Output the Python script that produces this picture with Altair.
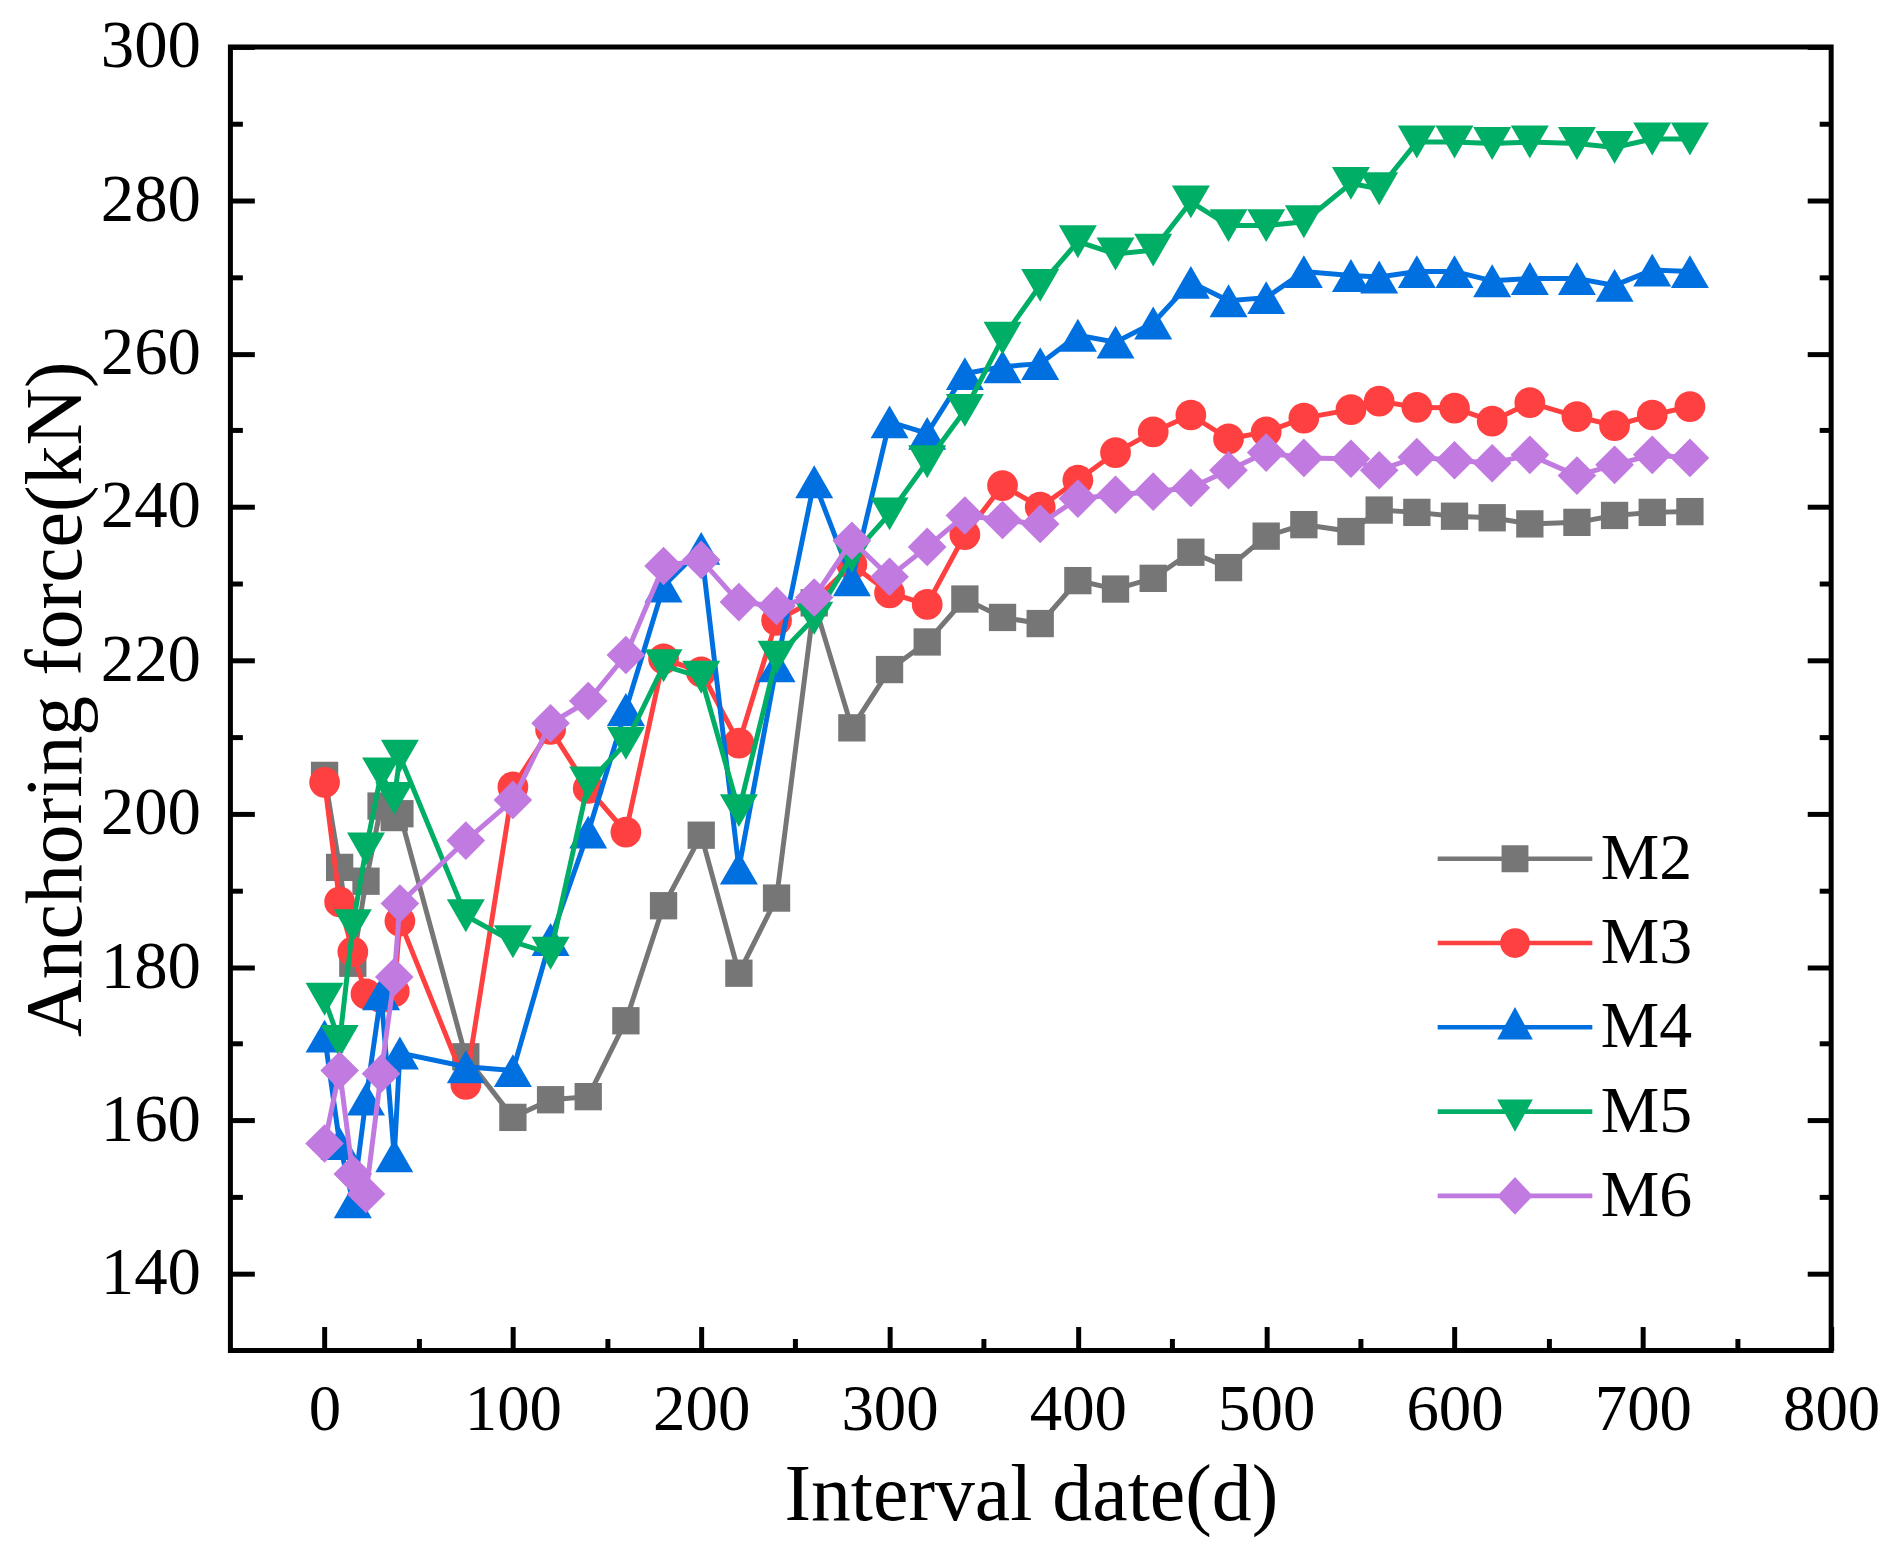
import altair as alt
import pandas as pd

FONT = "Liberation Serif"
PLOT_W = 1605
PLOT_H = 1307

days = [0, 8, 15, 22, 30, 37, 40, 75, 100, 120, 140, 160, 180, 200, 220, 240,
        260, 280, 300, 320, 340, 360, 380, 400, 420, 440, 460, 480, 500, 520,
        545, 560, 580, 600, 620, 640, 665, 685, 705, 725]

m2 = [205.0, 193.0, 180.5, 191.2, 201.0, 199.5, 200.0,
      168.3, 160.4, 162.7, 163.1, 173.0, 188.0, 197.2, 179.2, 189.0, 227.5,
      211.2, 218.8, 222.4, 228.0, 225.6, 224.8, 230.4, 229.3, 230.7, 234.1, 232.1, 236.2,
      237.7, 236.8, 239.6, 239.3, 238.8, 238.6, 237.8, 238.0, 238.9, 239.3, 239.4]
m3 = [204.1, 188.5, 182.0, 176.5, 176.0, 176.8, 186.0,
      164.7, 203.5, 211.0, 203.3, 197.6, 220.2, 218.5, 209.2, 225.2, 227.8,
      232.5, 228.8, 227.3, 236.4, 242.8, 240.0, 243.5, 247.1, 249.8, 252.0, 248.9, 249.8,
      251.6, 252.7, 253.8, 253.0, 252.9, 251.2, 253.6, 251.8, 250.6, 252.0, 253.1]
m4 = [171.0, 157.0, 149.4, 162.8, 176.5, 155.4, 168.8,
      167.0, 166.5, 183.6, 197.6, 213.6, 229.7, 234.6, 192.9, 219.3, 243.3,
      230.5, 251.1, 249.6, 257.4, 258.3, 258.7, 262.4, 261.5, 264.0, 269.3, 266.9, 267.3,
      270.7, 270.2, 270.0, 270.7, 270.7, 269.5, 269.8, 269.8, 268.9, 270.9, 270.7]
m5 = [175.8, 170.3, 185.4, 195.4, 205.2, 202.0, 207.5,
      186.7, 183.3, 181.8, 204.0, 209.2, 219.3, 217.8, 200.4, 220.4, 225.5,
      233.6, 239.1, 245.9, 252.6, 262.0, 268.9, 274.6, 273.0, 273.5, 279.8, 276.7, 276.7,
      277.2, 282.2, 281.5, 287.6, 287.6, 287.4, 287.6, 287.4, 286.9, 288.0, 288.0]
m6 = [157.0, 166.5, 153.0, 150.4, 166.1, 178.7, 188.3,
      196.5, 201.8, 211.8, 214.7, 220.7, 232.3, 233.1, 227.6, 227.1, 228.2,
      235.6, 230.9, 234.8, 238.9, 238.3, 237.8, 241.1, 241.6, 242.0, 242.5, 244.8, 247.1,
      246.4, 246.3, 244.8, 246.5, 246.1, 245.7, 246.8, 244.1, 245.5, 246.8, 246.4]

series_names = ["M2", "M3", "M4", "M5", "M6"]
series_values = [m2, m3, m4, m5, m6]
series_colors = ["#767676", "#FF4040", "#0070E0", "#00AE66", "#C07AE0"]
series_shapes = ["square", "circle", "triangle-up", "triangle-down", "diamond"]
series_sizes = [750, 950, 1450, 1450, 1500]

x_major = [0, 100, 200, 300, 400, 500, 600, 700, 800]
x_minor = [50, 150, 250, 350, 450, 550, 650, 750]
y_major = [140, 160, 180, 200, 220, 240, 260, 280, 300]
y_minor = [150, 170, 190, 210, 230, 250, 270, 290]

# legend symbols: a line with the marker in the middle (unit path, scaled by the legend)
LINE = "M -4.43 -0.13 H 4.43 V 0.13 H -4.43 Z "
legend_paths = [
    LINE + "M -0.77 -0.77 H 0.77 V 0.77 H -0.77 Z",
    LINE + "M -0.85 0 A 0.85 0.85 0 1 1 0.85 0 A 0.85 0.85 0 1 1 -0.85 0 Z",
    LINE + "M 0 -1.16 L 1.02 0.7 L -1.02 0.7 Z",
    LINE + "M -1.02 -0.7 L 1.02 -0.7 L 0 1.16 Z",
    LINE + "M 0 -1.08 L 1.02 0 L 0 1.08 L -1.02 0 Z",
]

x_scale = alt.Scale(domain=[-50, 800], nice=False, zero=False)
y_scale = alt.Scale(domain=[130, 300], nice=False, zero=False)

frames = [
    pd.DataFrame({"day": days, "value": vals, "series": name})
    for name, vals in zip(series_names, series_values)
]
all_data = pd.concat(frames, ignore_index=True)


def enc_x(axis):
    return alt.X("day:Q", scale=x_scale, axis=axis)


def enc_y(axis):
    return alt.Y("value:Q", scale=y_scale, axis=axis)


def tick_axis(orient, offset, values, size):
    return alt.Axis(orient=orient, offset=offset, values=values, tickSize=size,
                    tickWidth=5, tickColor="black", labels=False, domain=False,
                    grid=False, title=None)


layers = []

# series: line then symbols, in drawing order
for frame, color, shape, size in zip(frames, series_colors, series_shapes, series_sizes):
    base = alt.Chart(frame)
    layers.append(
        base.mark_line(color=color, strokeWidth=5).encode(x=enc_x(None), y=enc_y(None))
    )
    layers.append(
        base.mark_point(shape=shape, size=size, filled=True, opacity=1, color=color)
        .encode(x=enc_x(None), y=enc_y(None))
    )

# main axes with labels and titles
layers.append(
    alt.Chart(all_data).mark_point(opacity=0).encode(
        x=enc_x(alt.Axis(orient="bottom", values=x_major, ticks=False, domain=False,
                         grid=False, labelFont=FONT, labelFontSize=65, labelColor="black",
                         labelPadding=28, labelFlush=False, labelOverlap=False,
                         title="Interval date(d)", titleFont=FONT, titleFontSize=80,
                         titleFontWeight="normal", titleColor="black", titlePadding=14)),
        y=enc_y(alt.Axis(orient="left", values=y_major, ticks=False, domain=False,
                         grid=False, labelFont=FONT, labelFontSize=67, labelColor="black",
                         labelPadding=30, labelFlush=False, labelOverlap=False,
                         title="Anchoring force(kN)", titleFont=FONT, titleFontSize=80,
                         titleFontWeight="normal", titleColor="black", titlePadding=3)),
    )
)

# inward ticks: axes moved onto the opposite edge with a negative offset
tick_specs = [
    (tick_axis("top", -PLOT_H, x_major, 24), tick_axis("right", -PLOT_W, y_major, 24)),
    (tick_axis("top", -PLOT_H, x_minor, 12), tick_axis("right", -PLOT_W, y_minor, 12)),
    (None, tick_axis("left", -PLOT_W, y_major, 24)),
    (None, tick_axis("left", -PLOT_W, y_minor, 12)),
]
for xa, ya in tick_specs:
    layers.append(
        alt.Chart(all_data).mark_point(opacity=0).encode(x=enc_x(xa), y=enc_y(ya))
    )

# legend layer: no marks of its own (filtered out), only the legend
layers.append(
    alt.Chart(all_data)
    .transform_filter("datum.day < -1000")
    .mark_point(filled=True, opacity=1)
    .encode(
        x=enc_x(None),
        y=enc_y(None),
        color=alt.Color(
            "series:N",
            scale=alt.Scale(domain=series_names, range=series_colors),
            legend=alt.Legend(
                title=None, orient="none", legendX=1255, legendY=781,
                labelFont=FONT, labelFontSize=66, labelColor="black",
                labelOffset=53, symbolSize=1225, symbolOpacity=1,
                symbolStrokeWidth=0, rowPadding=18.5, padding=0,
            ),
        ),
        shape=alt.Shape(
            "series:N",
            scale=alt.Scale(domain=series_names, range=legend_paths),
        ),
    )
)

chart = (
    alt.layer(*layers)
    .properties(
        width=PLOT_W,
        height=PLOT_H,
        autosize=alt.AutoSizeParams(type="none"),
        padding={"left": 223, "top": 37, "right": 60, "bottom": 195},
        background="white",
    )
    .configure_view(stroke="black", strokeWidth=5)
)

chart.save("out.html", embed_options={"renderer": "svg", "actions": False})
